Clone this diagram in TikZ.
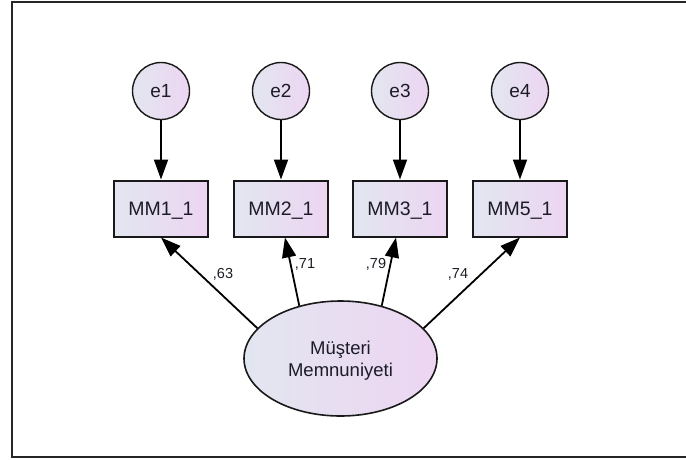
\documentclass[tikz,border=0pt]{standalone}
\usepackage{fontspec}
\setmainfont{Liberation Sans}
\usetikzlibrary{arrows.meta,shapes.geometric}
\definecolor{gL}{RGB}{226,230,240}
\definecolor{gR}{RGB}{237,213,242}
\definecolor{ink}{RGB}{28,28,40}
\begin{document}
\begin{tikzpicture}[x=1pt,y=-1pt,
  varbase/.style={draw=black!90, left color=gL, right color=gR, text=ink, inner sep=0pt},
  errvar/.style={varbase, circle, line width=1.4pt, minimum size=57pt,
    font=\fontsize{19}{22}\selectfont, text height=13.6pt, text depth=0pt},
  obsvar/.style={varbase, rectangle, line width=2pt, minimum width=94pt, minimum height=56pt,
    font=\fontsize{19.5}{22}\selectfont, text height=14pt, text depth=0pt},
  latvar/.style={varbase, ellipse, line width=1.6pt, minimum width=193pt, minimum height=115pt,
    align=center, font=\fontsize{18.5}{22}\selectfont, text depth=0pt},
  regpath/.style={line width=1.8pt, black, -{Triangle[length=20pt,width=14pt]}},
  coef/.style={font=\fontsize{14.5}{16}\selectfont, text=ink, inner sep=0pt, anchor=base}
]
\useasboundingbox (0,0) rectangle (686,459);

% frame
\draw[line width=2pt, black!85] (686,2.2) -- (11.7,2.2) -- (11.7,457) -- (686,457);

% error terms
\node[errvar] (e1) at (161,91) {e1};
\node[errvar] (e2) at (281,91) {e2};
\node[errvar] (e3) at (400,91) {e3};
\node[errvar] (e4) at (520,91) {e4};

% observed indicators
\node[obsvar] (mm1) at (161,208.5) {MM1\_1};
\node[obsvar] (mm2) at (281,208.5) {MM2\_1};
\node[obsvar] (mm3) at (400,208.5) {MM3\_1};
\node[obsvar] (mm5) at (520,208.5) {MM5\_1};

% latent factor
\node[latvar] (ms) at (340.5,358.5) {Müşteri\\Memnuniyeti};

% error paths
\draw[regpath] (e1) -- (mm1);
\draw[regpath] (e2) -- (mm2);
\draw[regpath] (e3) -- (mm3);
\draw[regpath] (e4) -- (mm5);

% factor loadings
\draw[regpath] (ms.160) -- (mm1.south);
\draw[regpath] (ms.128) -- ([xshift=4pt]mm2.south);
\draw[regpath] (ms.52) -- ([xshift=-4pt]mm3.south);
\draw[regpath] (ms.20) -- (mm5.south);

\node[coef] (l1) at (223,278) {,63};
\node[coef] (l2) at (305,268.3) {,71};
\node[coef] (l3) at (376,268.3) {,79};
\node[coef] (l4) at (458,278) {,74};
\end{tikzpicture}
\end{document}
